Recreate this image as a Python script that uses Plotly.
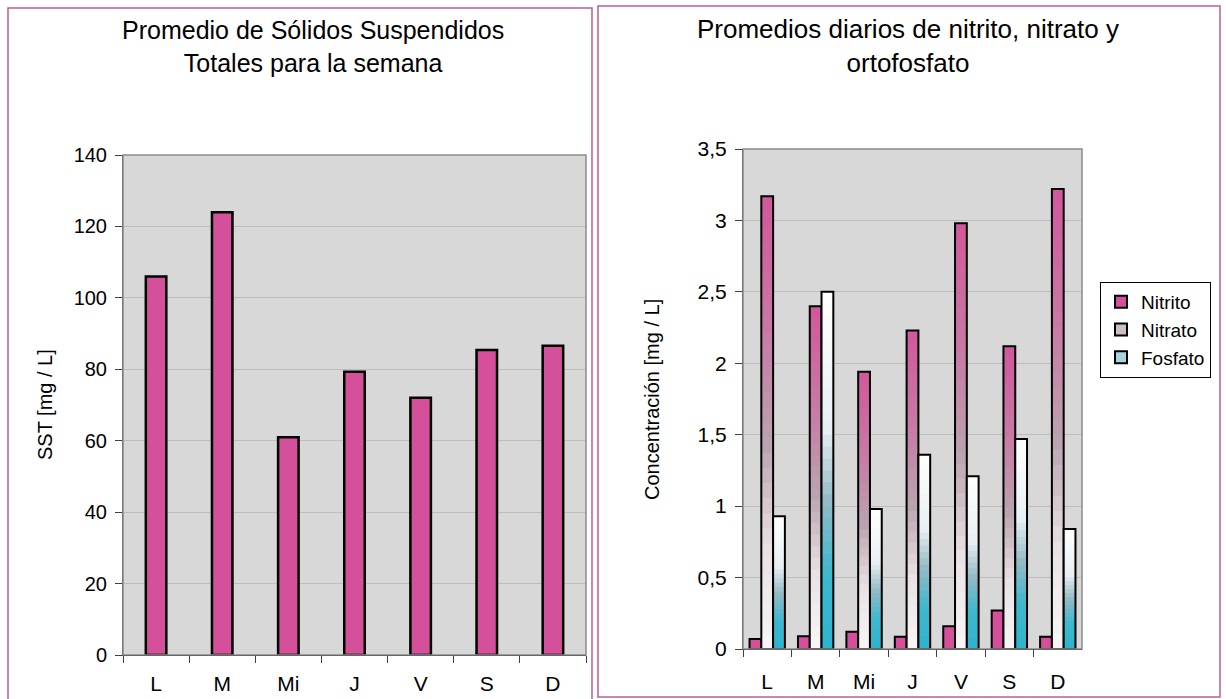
import plotly.graph_objects as go

# ---- data -------------------------------------------------------------
dias = ["L", "M", "Mi", "J", "V", "S", "D"]

# Sólidos suspendidos totales [mg / L]
sst = [106, 124, 61, 79.3, 72, 85.4, 86.6]

# Nitrito, nitrato y ortofosfato [mg / L]
nitrito = [0.07, 0.09, 0.12, 0.085, 0.16, 0.27, 0.085]
nitrato = [3.17, 2.40, 1.94, 2.23, 2.98, 2.12, 3.22]
fosfato = [0.93, 2.50, 0.98, 1.36, 1.21, 1.47, 0.84]

sst_ticks = [0, 20, 40, 60, 80, 100, 120, 140]
conc_tickvals = [0, 0.5, 1, 1.5, 2, 2.5, 3, 3.5]
conc_ticktext = ["0", "0,5", "1", "1,5", "2", "2,5", "3", "3,5"]

# ---- styling ----------------------------------------------------------
W, H = 1226, 699
FONT = "Liberation Sans, Arial, sans-serif"
PINK = "#d4509b"
PANEL = "#bf5c96"
PLOT_BG = "#d8d8d8"
GRID = "#bdbdbd"

# gradient stops (fraction from the bottom of the bar, colour)
NITRATO_STOPS = [(0.0, (248, 246, 247)), (0.22, (232, 226, 229)),
                 (0.45, (186, 164, 175)), (0.7, (200, 122, 165)),
                 (1.0, (210, 88, 156))]
FOSFATO_STOPS = [(0.0, (44, 180, 206)), (0.22, (64, 184, 206)),
                 (0.42, (150, 186, 198)), (0.62, (232, 240, 243)),
                 (1.0, (255, 255, 255))]
LEVELS = 30


def px(x):
    return x / W


def py(y):
    return 1 - y / H


def colour_at(stops, t):
    for (t0, c0), (t1, c1) in zip(stops, stops[1:]):
        if t <= t1:
            f = (t - t0) / (t1 - t0) if t1 > t0 else 0
            rgb = [round(a + (b - a) * f) for a, b in zip(c0, c1)]
            return "rgb({},{},{})".format(*rgb)
    return "rgb({},{},{})".format(*stops[-1][1])


fig = go.Figure()

# ---- left: SST --------------------------------------------------------
fig.add_trace(go.Bar(
    x=dias, y=sst, width=0.31, xaxis="x", yaxis="y",
    marker=dict(color=PINK, line=dict(color="black", width=2.5)),
    showlegend=False,
))

# ---- right: nutrients -------------------------------------------------
fig.add_trace(go.Bar(
    x=dias, y=nitrito, name="Nitrito", offsetgroup="nitrito",
    legendgroup="nitrito", xaxis="x2", yaxis="y2", legendrank=1,
    marker=dict(color=PINK, line=dict(color="black", width=2)),
))


def gradient_bars(values, stops, group, name, legend_colour, rank):
    # stack of shrinking bars from the top colour down to the bottom colour
    for k in range(LEVELS):
        frac = (LEVELS - k) / LEVELS
        t = (LEVELS - k - 0.5) / LEVELS
        fig.add_trace(go.Bar(
            x=dias, y=[v * frac for v in values], offsetgroup=group,
            legendgroup=group, xaxis="x2", yaxis="y2", showlegend=False,
            hoverinfo="skip",
            marker=dict(color=colour_at(stops, t), line=dict(width=0)),
        ))
    # outline
    fig.add_trace(go.Bar(
        x=dias, y=values, offsetgroup=group, legendgroup=group,
        xaxis="x2", yaxis="y2", showlegend=False, name=name,
        marker=dict(color="rgba(0,0,0,0)", line=dict(color="black", width=2)),
    ))
    # legend key
    fig.add_trace(go.Bar(
        x=[None], y=[None], offsetgroup=group, legendgroup=group,
        xaxis="x2", yaxis="y2", name=name, legendrank=rank,
        marker=dict(color=legend_colour, line=dict(color="black", width=2)),
    ))


gradient_bars(nitrato, NITRATO_STOPS, "nitrato", "Nitrato", "#cdbdc5", 2)
gradient_bars(fosfato, FOSFATO_STOPS, "fosfato", "Fosfato", "#a9d4dc", 3)

# ---- axes -------------------------------------------------------------
common_x = dict(
    type="category", showgrid=False, showline=True, linecolor="black",
    linewidth=1, ticks="outside", tickson="boundaries", ticklen=7,
    tickcolor="#404040", tickfont=dict(size=21, color="black"),
    fixedrange=True, automargin=False,
)
common_y = dict(
    showgrid=True, gridcolor=GRID, gridwidth=1, zeroline=False,
    showline=True, linecolor="#404040", linewidth=1, ticks="outside",
    ticklen=7, tickcolor="#404040", ticklabelstandoff=4,
    fixedrange=True, automargin=False,
)

fig.update_layout(
    width=W, height=H, autosize=False,
    margin=dict(l=0, r=0, t=0, b=0, pad=0),
    paper_bgcolor="white", plot_bgcolor=PLOT_BG,
    font=dict(family=FONT, color="black"),
    barmode="group", bargap=0.27, bargroupgap=0,
    xaxis=dict(common_x, domain=[px(123), px(586)], anchor="y",
               ticklabelstandoff=10),
    yaxis=dict(common_y, domain=[py(655), py(155)], anchor="x",
               range=[0, 140], tickvals=sst_ticks,
               tickfont=dict(size=20, color="black")),
    xaxis2=dict(common_x, domain=[px(743), px(1082)], anchor="y2",
                ticklabelstandoff=14),
    yaxis2=dict(common_y, domain=[py(649), py(149)], anchor="x2",
                range=[0, 3.5], tickvals=conc_tickvals,
                ticktext=conc_ticktext,
                tickfont=dict(size=21, color="black")),
    legend=dict(
        x=px(1100), y=py(282), xanchor="left", yanchor="top",
        bordercolor="black", borderwidth=1, bgcolor="white",
        font=dict(size=19, color="black"), traceorder="normal",
        tracegroupgap=8, itemclick=False, itemdoubleclick=False,
    ),
    showlegend=True,
)

# plot-area frames
for xr, yr in (("x domain", "y domain"), ("x2 domain", "y2 domain")):
    fig.add_shape(type="rect", xref=xr, yref=yr, x0=0, x1=1, y0=0, y1=1,
                  line=dict(color="#8a8a8a", width=1.5), layer="above")

# panel frames
fig.add_shape(type="rect", xref="paper", yref="paper",
              x0=px(8), x1=px(592), y0=py(720), y1=py(8),
              line=dict(color=PANEL, width=1.5))
fig.add_shape(type="rect", xref="paper", yref="paper",
              x0=px(598), x1=px(1220), y0=py(697), y1=py(6),
              line=dict(color=PANEL, width=1.5))

# titles
fig.add_annotation(text="Promedio de Sólidos Suspendidos<br>Totales para la semana",
                   xref="paper", yref="paper", x=px(313), y=py(46),
                   xanchor="center", yanchor="middle",
                   showarrow=False, font=dict(size=25), align="center")
fig.add_annotation(text="Promedios diarios de nitrito, nitrato y<br>ortofosfato",
                   xref="paper", yref="paper", x=px(908), y=py(46),
                   xanchor="center", yanchor="middle",
                   showarrow=False, font=dict(size=26), align="center")

# axis titles
fig.add_annotation(text="SST [mg / L]", xref="paper", yref="paper",
                   x=px(45), y=py(405), xanchor="center", yanchor="middle",
                   textangle=-90, showarrow=False, font=dict(size=20))
fig.add_annotation(text="Concentración [mg / L]", xref="paper", yref="paper",
                   x=px(652), y=py(399), xanchor="center", yanchor="middle",
                   textangle=-90, showarrow=False, font=dict(size=20))

fig.write_html("out.html", config={"displayModeBar": False})
